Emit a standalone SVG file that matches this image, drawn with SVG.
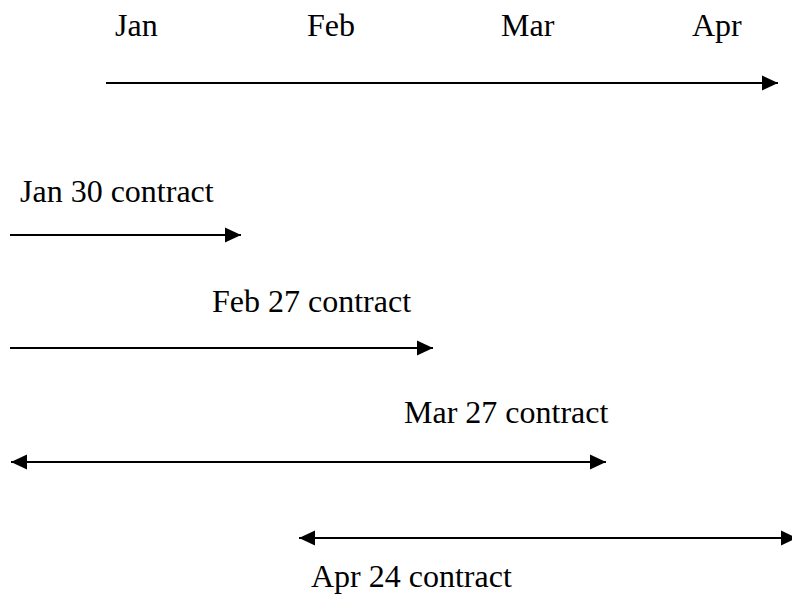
<svg xmlns="http://www.w3.org/2000/svg" width="792" height="594" viewBox="0 0 792 594">
  <style>
    text { font-family: "Liberation Serif", "Times New Roman", serif; font-size: 32px; fill: #000; }
    .ln { stroke: #000; stroke-width: 2; fill: none; }
    .end { marker-end: url(#head); }
    .both { marker-start: url(#tail); marker-end: url(#head); }
  </style>
  <defs>
    <marker id="head" markerUnits="userSpaceOnUse" markerWidth="17" markerHeight="16" refX="16" refY="8" orient="auto" viewBox="0 0 17 16">
      <path d="M0,0.5 L16,8 L0,15.5 Z" fill="#000"/>
    </marker>
    <marker id="tail" markerUnits="userSpaceOnUse" markerWidth="17" markerHeight="16" refX="0" refY="8" orient="auto" viewBox="0 0 17 16">
      <path d="M16,0.5 L0,8 L16,15.5 Z" fill="#000"/>
    </marker>
  </defs>
  <g id="months">
    <text x="115" y="36">Jan</text>
    <text x="307" y="36">Feb</text>
    <text x="501" y="36">Mar</text>
    <text x="692" y="36">Apr</text>
  </g>
  <g id="labels">
    <text x="20" y="202">Jan 30 contract</text>
    <text x="212" y="312">Feb 27 contract</text>
    <text x="404" y="423">Mar 27 contract</text>
    <text x="311" y="587">Apr 24 contract</text>
  </g>
  <g id="connectors">
    <line class="ln end" x1="106" y1="83" x2="778" y2="83"/>
    <line class="ln end" x1="10" y1="235" x2="241" y2="235"/>
    <line class="ln end" x1="10" y1="348" x2="433" y2="348"/>
    <line class="ln both" x1="11" y1="462" x2="606" y2="462"/>
    <line class="ln both" x1="299" y1="538" x2="797" y2="538"/>
  </g>
</svg>
